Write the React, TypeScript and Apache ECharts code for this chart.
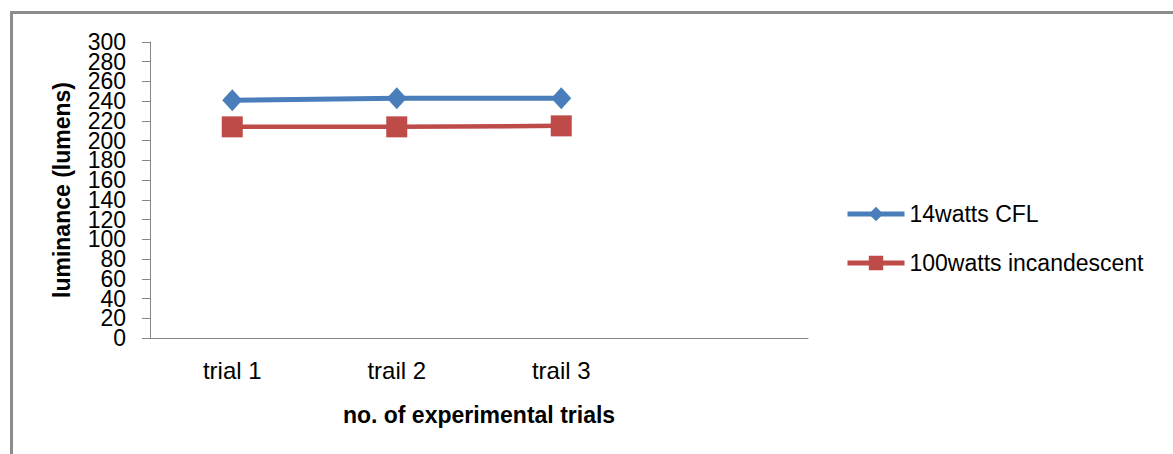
import React, { useEffect, useRef } from "react";
import * as echarts from "echarts";

const categories = ["trial 1", "trail 2", "trail 3", ""];
const cflValues = [241, 243, 243];
const incValues = [214, 214, 215];
const seriesNames = ["14watts CFL", "100watts incandescent"];
const yMin = 0;
const yMax = 300;
const yStep = 20;
const yTickLabels = ["0", "20", "40", "60", "80", "100", "120", "140", "160", "180", "200", "220", "240", "260", "280", "300"];

const FONT = "'Liberation Sans', Arial, sans-serif";
const AXIS_GRAY = "#868686";
const BLUE = "#4a7ebb";
const RED = "#be4b48";

export default function App() {
  const ref = useRef<HTMLDivElement>(null);
  useEffect(() => {
    document.body.style.margin = "0";
    if (!ref.current) return;
    const chart = echarts.init(ref.current, null, { renderer: "svg" });
    chart.setOption({
      animation: false,
      backgroundColor: "#ffffff",
      textStyle: { fontFamily: FONT },
      graphic: [
        {
          type: "rect",
          shape: { x: 11.5, y: 12.5, width: 1300, height: 600 },
          style: { fill: "none", stroke: "#8c8c8c", lineWidth: 3 },
          silent: true,
        },
      ],
      grid: { left: 150, top: 42, right: 365, bottom: 116, containLabel: false },
      legend: {
        orient: "vertical",
        left: 840,
        top: 196,
        itemWidth: 57,
        itemHeight: 18,
        itemGap: 23,
        textStyle: { fontFamily: FONT, fontSize: 23, color: "#000", lineHeight: 26 },
        data: [
          { name: seriesNames[0], lineStyle: { width: 5, color: BLUE } },
          { name: seriesNames[1], lineStyle: { width: 5, color: RED } },
        ],
      },
      xAxis: {
        type: "category",
        data: categories,
        boundaryGap: true,
        axisLine: { lineStyle: { color: AXIS_GRAY, width: 1 } },
        axisTick: { show: false },
        axisLabel: { fontFamily: FONT, fontSize: 24, color: "#000", margin: 20, interval: 0 },
        name: "no. of experimental trials",
        nameLocation: "middle",
        nameGap: 65,
        nameTextStyle: { fontFamily: FONT, fontSize: 23, fontWeight: "bold", color: "#000" },
      },
      yAxis: [
        {
          type: "value",
          min: yMin,
          max: yMax,
          interval: yStep,
          splitLine: { show: false },
          axisLine: { show: true, lineStyle: { color: AXIS_GRAY, width: 1 } },
          axisTick: { show: true, inside: false, length: 8, lineStyle: { color: AXIS_GRAY } },
          axisLabel: { show: false },
          name: "luminance (lumens)",
          nameLocation: "middle",
          nameGap: 77,
          nameRotate: 90,
          nameTextStyle: { fontFamily: FONT, fontSize: 23, fontWeight: "bold", color: "#000" },
        },
        {
          type: "category",
          data: yTickLabels,
          position: "left",
          boundaryGap: false,
          axisLine: { show: false },
          axisTick: { show: false },
          splitLine: { show: false },
          axisLabel: {
            fontFamily: FONT,
            fontSize: 23,
            color: "#000",
            margin: 24,
            lineHeight: 19,
            interval: 0,
          },
        },
      ],
      series: [
        {
          name: seriesNames[0],
          type: "line",
          yAxisIndex: 0,
          data: cflValues,
          symbol: "diamond",
          symbolSize: [20, 22],
          itemStyle: { color: BLUE },
          lineStyle: { color: BLUE, width: 5 },
        },
        {
          name: seriesNames[1],
          type: "line",
          yAxisIndex: 0,
          data: incValues,
          symbol: "rect",
          symbolSize: 21,
          itemStyle: { color: RED },
          lineStyle: { color: RED, width: 4.5 },
        },
      ],
    });
    return () => chart.dispose();
  }, []);
  return <div ref={ref} style={{ width: 1173, height: 454 }} />;
}
